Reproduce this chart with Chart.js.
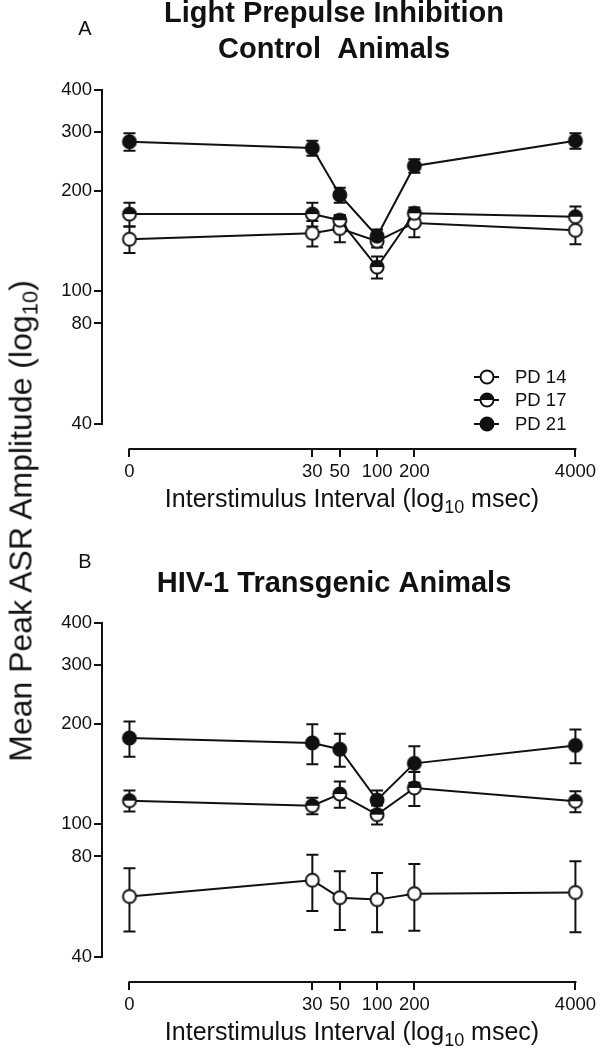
<!DOCTYPE html>
<html>
<head>
<meta charset="utf-8">
<script src="https://cdn.jsdelivr.net/npm/chart.js@4.4.1/dist/chart.umd.min.js"></script>
<style>
  html, body { margin: 0; padding: 0; background: #fff; overflow: hidden; }
  body { width: 600px; height: 1049px; position: relative; font-family: "Liberation Sans", Arial, sans-serif; color: #111; }
  canvas { position: absolute; left: 0; }
  #panelA { top: 0; }
  #panelB { top: 533px; }
  #yTitle {
    position: absolute; left: 23px; top: 521px;
    transform: translate(-50%, -50%) rotate(-90deg);
    white-space: nowrap; font-size: 32px; line-height: 1;
  }
  #yTitle sub { font-size: 22px; vertical-align: -6px; }
</style>
</head>
<body>
<canvas id="panelA" width="600" height="516"></canvas>
<canvas id="panelB" width="600" height="516"></canvas>
<div id="yTitle">Mean Peak ASR Amplitude (log<sub>10</sub>)</div>

<script>
// interstimulus intervals; the 0 msec condition sits at 1 on the log axis
const isiValues = [1, 30, 50, 100, 200, 4000];
const isiLabels = ['0', '30', '50', '100', '200', '4000'];
const yTickValues = [40, 80, 100, 200, 300, 400];
const seriesNames = ['PD 14', 'PD 17', 'PD 21'];

// A: control animals (mean, SEM)
const ctrlPD14 = [143, 149, 154, 141, 160, 152];
const ctrlPD14Err = [13, 13, 14, 6, 15, 14];
const ctrlPD17 = [170, 170, 163, 118, 171, 167];
const ctrlPD17Err = [14, 14, 6, 9, 7, 12];
const ctrlPD21 = [280, 268, 194, 146, 237, 282];
const ctrlPD21Err = [17, 14, 10, 7, 11, 15];

// B: HIV-1 transgenic animals (mean, SEM)
const tgPD14 = [60.7, 67.9, 60.2, 59.4, 61.9, 62.4];
const tgPD14Err = [13, 13, 12, 12, 14, 15];
const tgPD17 = [117.5, 113.5, 123, 106.7, 128.3, 117];
const tgPD17Err = [8.5, 6.5, 11, 7, 15, 8.5];
const tgPD21 = [181, 175, 167.5, 118, 152, 172];
const tgPD21Err = [22, 24, 19, 8, 19, 20];

const INK = '#111';
const FONT = '"Liberation Sans", Arial, sans-serif';

function makeMarker(kind) {
  const size = 18, r = 6.5;
  const c = document.createElement('canvas');
  c.width = size; c.height = size;
  const g = c.getContext('2d');
  const m = size / 2;
  g.beginPath();
  g.arc(m, m, r, 0, Math.PI * 2);
  g.fillStyle = kind === 'filled' ? INK : '#fff';
  g.fill();
  if (kind === 'half') {
    g.beginPath();
    g.arc(m, m, r, Math.PI, 0);
    g.closePath();
    g.fillStyle = INK;
    g.fill();
  }
  g.lineWidth = 2;
  g.strokeStyle = INK;
  g.beginPath();
  g.arc(m, m, r, 0, Math.PI * 2);
  g.stroke();
  return c;
}

const markers = [makeMarker('open'), makeMarker('half'), makeMarker('filled')];

function toPoints(vals) {
  return vals.map((v, i) => ({ x: isiValues[i], y: v }));
}

function makeDatasets(series, errs) {
  // PD 21 first so it is drawn on top
  const out = [];
  for (let i = series.length - 1; i >= 0; i--) {
    out.push({
      label: seriesNames[i],
      data: toPoints(series[i]),
      errors: errs[i],
      borderColor: INK,
      borderWidth: 2,
      tension: 0,
      pointStyle: markers[i],
      pointRadius: 7,
      pointHoverRadius: 7,
      clip: false
    });
  }
  return out;
}

const errorBars = {
  id: 'errorBars',
  beforeDatasetsDraw(chart) {
    const ctx = chart.ctx;
    const xs = chart.scales.x, ys = chart.scales.y;
    ctx.save();
    ctx.strokeStyle = INK;
    ctx.lineWidth = 2;
    chart.data.datasets.forEach(ds => {
      ds.data.forEach((p, i) => {
        const e = ds.errors[i];
        const x = xs.getPixelForValue(p.x);
        const yTop = ys.getPixelForValue(p.y + e);
        const yBot = ys.getPixelForValue(p.y - e);
        ctx.beginPath();
        ctx.moveTo(x, yTop); ctx.lineTo(x, yBot);
        ctx.moveTo(x - 6, yTop); ctx.lineTo(x + 6, yTop);
        ctx.moveTo(x - 6, yBot); ctx.lineTo(x + 6, yBot);
        ctx.stroke();
      });
    });
    ctx.restore();
  }
};

// axis lines only span the tick range (offset axes)
const axisLines = {
  id: 'axisLines',
  afterDraw(chart) {
    const ctx = chart.ctx;
    const xs = chart.scales.x, ys = chart.scales.y;
    const area = chart.chartArea;
    ctx.save();
    ctx.strokeStyle = INK;
    ctx.lineWidth = 2;
    ctx.beginPath();
    ctx.moveTo(area.left, ys.getPixelForValue(yTickValues[yTickValues.length - 1]) - 1);
    ctx.lineTo(area.left, ys.getPixelForValue(yTickValues[0]) + 1);
    ctx.moveTo(xs.getPixelForValue(isiValues[0]) - 1, area.bottom);
    ctx.lineTo(xs.getPixelForValue(isiValues[isiValues.length - 1]) + 1, area.bottom);
    ctx.stroke();
    ctx.restore();
  }
};

const panelText = {
  id: 'panelText',
  afterDraw(chart, args, opts) {
    const ctx = chart.ctx;
    ctx.save();
    ctx.fillStyle = INK;
    ctx.textBaseline = 'alphabetic';
    ctx.textAlign = 'center';

    ctx.font = '20px ' + FONT;
    ctx.fillText(opts.letter, 85, 35);

    ctx.font = 'bold 29px ' + FONT;
    opts.title.forEach((t, i) => ctx.fillText(t, 334, opts.titleY[i]));

    // x axis title with subscript
    ctx.textAlign = 'left';
    const p1 = 'Interstimulus Interval (log', sub = '10', p3 = ' msec)';
    ctx.font = '25px ' + FONT;
    const w1 = ctx.measureText(p1).width, w3 = ctx.measureText(p3).width;
    ctx.font = '18px ' + FONT;
    const w2 = ctx.measureText(sub).width;
    let x = 352 - (w1 + w2 + w3) / 2;
    ctx.font = '25px ' + FONT;
    ctx.fillText(p1, x, 507);
    x += w1;
    ctx.font = '18px ' + FONT;
    ctx.fillText(sub, x, 513);
    x += w2;
    ctx.font = '25px ' + FONT;
    ctx.fillText(p3, x, 507);

    if (opts.legend) {
      const rows = [377, 400, 424];
      ctx.textBaseline = 'middle';
      ctx.font = '18.5px ' + FONT;
      ctx.strokeStyle = INK;
      ctx.lineWidth = 2;
      seriesNames.forEach((name, i) => {
        const y = rows[i];
        ctx.beginPath();
        ctx.moveTo(474, y); ctx.lineTo(499, y);
        ctx.stroke();
        ctx.drawImage(markers[i], 487 - 9, y - 9);
        ctx.fillText(name, 515, y + 1);
      });
    }
    ctx.restore();
  }
};

function makeChart(id, series, errs, textOpts) {
  const ctx = document.getElementById(id).getContext('2d');
  return new Chart(ctx, {
    type: 'line',
    data: { datasets: makeDatasets(series, errs) },
    options: {
      responsive: false,
      animation: false,
      events: [],
      layout: { padding: { left: 0, top: 90, right: 22, bottom: 0 } },
      plugins: {
        legend: { display: false },
        tooltip: { enabled: false },
        panelText: textOpts
      },
      scales: {
        x: {
          type: 'logarithmic',
          min: 0.644,
          max: 4000,
          border: { display: false },
          grid: { drawOnChartArea: false, drawTicks: true, tickLength: 8, color: INK, lineWidth: 2 },
          afterBuildTicks: s => { s.ticks = isiValues.map(v => ({ value: v })); },
          afterFit: s => { s.height = 67; },
          ticks: {
            autoSkip: false, maxRotation: 0, minRotation: 0, padding: 4,
            color: INK, font: { size: 18.5, family: FONT },
            callback: v => isiLabels[isiValues.indexOf(v)]
          }
        },
        y: {
          type: 'logarithmic',
          min: 33.66,
          max: 400,
          border: { display: false },
          grid: { drawOnChartArea: false, drawTicks: true, tickLength: 8, color: INK, lineWidth: 2 },
          afterBuildTicks: s => { s.ticks = yTickValues.map(v => ({ value: v })); },
          afterFit: s => { s.width = 102; },
          ticks: {
            padding: 2, color: INK, font: { size: 18.5, family: FONT },
            callback: v => String(v)
          }
        }
      }
    },
    plugins: [errorBars, axisLines, panelText]
  });
}

makeChart('panelA',
  [ctrlPD14, ctrlPD17, ctrlPD21],
  [ctrlPD14Err, ctrlPD17Err, ctrlPD21Err],
  { letter: 'A', title: ['Light Prepulse Inhibition', 'Control  Animals'], titleY: [22, 58], legend: true });

makeChart('panelB',
  [tgPD14, tgPD17, tgPD21],
  [tgPD14Err, tgPD17Err, tgPD21Err],
  { letter: 'B', title: ['HIV-1 Transgenic Animals'], titleY: [59], legend: false });
</script>
</body>
</html>
